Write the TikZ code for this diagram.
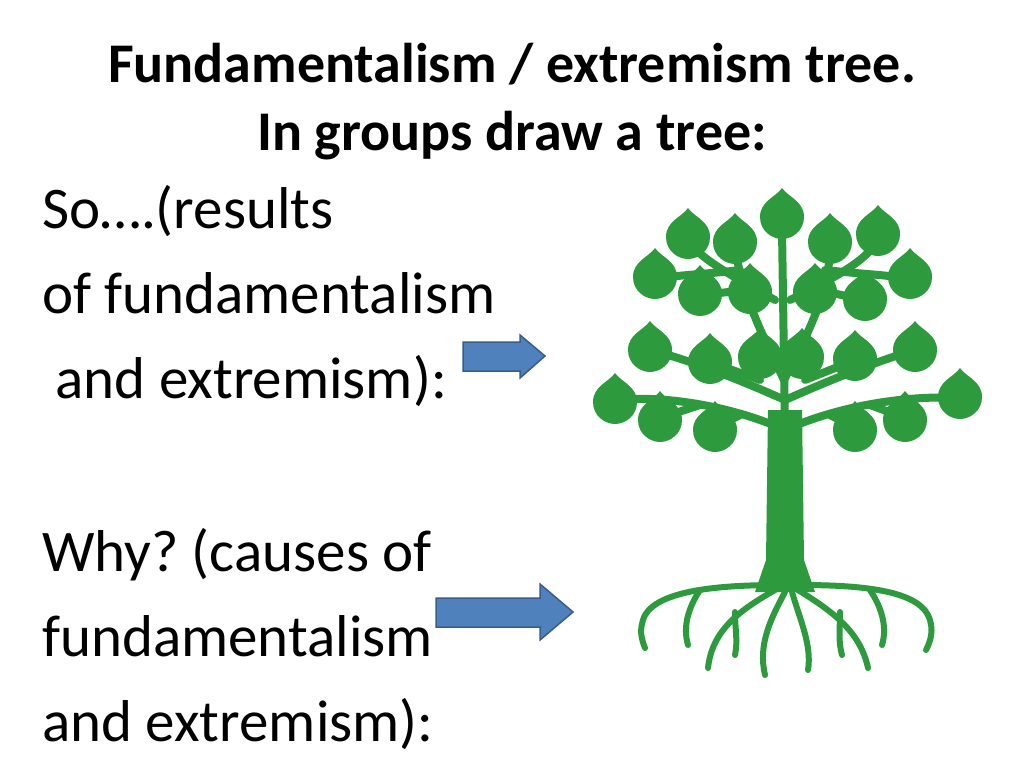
\documentclass[tikz,border=0pt]{standalone}
\usepackage{fontspec}
\setmainfont{Carlito}
\frenchspacing
\definecolor{treeg}{HTML}{2E9A3E}
\definecolor{arrf}{HTML}{4F81BD}
\definecolor{arrd}{HTML}{385D8A}
\tikzset{
 txt/.style={anchor=base west,inner sep=0pt,font=\fontsize{59}{59}\selectfont},
 ttl/.style={anchor=base,inner sep=0pt,font=\fontsize{56}{56}\selectfont\bfseries},
 arr/.style={fill=arrf,draw=arrd,line width=1.5pt},
 br/.style={draw=treeg,line width=8pt,line cap=round},
 rt/.style={draw=treeg,line width=6pt,line cap=round},
 leaf/.pic={\fill[treeg] (0,-27) .. controls (6,-18) and (22,-14) .. (22,2) .. controls (22,16) and (10,24) .. (0,24) .. controls (-10,24) and (-22,16) .. (-22,2) .. controls (-22,-14) and (-6,-18) .. (0,-27) -- cycle;}
}
\begin{document}
\begin{tikzpicture}[x=1pt,y=-1pt]
\useasboundingbox (0,0) rectangle (1024,768);
\fill[white] (0,0) rectangle (1024,768);
\node[ttl] (t1) at (512,82) {Fundamentalism / extremism tree.};
\node[ttl] (t2) at (512,150) {In groups draw a tree:};
\node[txt] (a1) at (42,228) {So….(results};
\node[txt] (a2) at (42,313) {of fundamentalism};
\node[txt] (a3) at (42,398) {\ and extremism):};
\node[txt] (b1) at (42,571) {Why? (causes of};
\node[txt] (b2) at (42,656) {fundamentalism};
\node[txt] (b3) at (42,741) {and extremism):};
% arrows
\draw[arr] (463,342) -- (520,342) -- (520,335) -- (545,356) -- (520,378) -- (520,371) -- (463,371) -- cycle;
\draw[arr] (436,598) -- (540,598) -- (540,584) -- (573,612) -- (540,640) -- (540,627) -- (436,627) -- cycle;
% trunk
\fill[treeg] (768,410) -- (802,410) -- (804,560) -- (815,592) -- (755,592) -- (766,560) -- cycle;
% branches
\draw[br] (785,430) -- (782,230);
\draw[br] (784,380) .. controls (760,330) and (740,290) .. (735,245);
\draw[br] (784,380) .. controls (810,330) and (830,290) .. (830,245);
\draw[br] (775,300) .. controls (740,280) and (700,260) .. (688,240);
\draw[br] (790,300) .. controls (830,280) and (870,260) .. (878,238);
\draw[br] (740,270) .. controls (700,275) and (670,275) .. (655,280);
\draw[br] (825,270) .. controls (870,275) and (895,275) .. (910,280);
\draw[br] (760,300) -- (750,295);
\draw[br] (748,290) -- (700,295);
\draw[br] (812,300) -- (815,295);
\draw[br] (818,290) -- (865,300);
\draw[br] (785,400) .. controls (740,380) and (690,360) .. (650,350);
\draw[br] (785,400) .. controls (830,380) and (880,360) .. (915,350);
\draw[br] (760,380) -- (710,362);
\draw[br] (765,370) -- (760,358);
\draw[br] (800,370) -- (800,358);
\draw[br] (805,380) -- (855,360);
\draw[br] (785,430) .. controls (730,405) and (660,395) .. (615,400);
\draw[br] (785,430) .. controls (840,405) and (910,395) .. (960,398);
\draw[br] (700,405) -- (660,418);
\draw[br] (740,415) -- (715,428);
\draw[br] (870,405) -- (905,418);
\draw[br] (830,415) -- (855,428);
% leaves
\foreach \p in {(782,215),(735,240),(830,240),(688,235),(878,232),(655,275),(910,275),(700,292),(750,290),(815,290),(865,297),(650,348),(915,348),(710,360),(760,355),(802,355),(855,357),(615,400),(960,395),(660,418),(905,418),(715,428),(855,428)}
  \pic at \p {leaf};
% roots
\draw[rt] (780,585) .. controls (720,585) and (660,590) .. (645,615) .. controls (638,630) and (642,640) .. (645,648);
\draw[rt] (700,590) .. controls (690,605) and (682,625) .. (688,645);
\draw[rt] (775,590) .. controls (740,610) and (712,630) .. (708,668);
\draw[rt] (785,592) .. controls (770,620) and (758,645) .. (765,675);
\draw[rt] (792,592) .. controls (800,620) and (812,645) .. (808,670);
\draw[rt] (798,590) .. controls (830,610) and (860,630) .. (868,668);
\draw[rt] (800,585) .. controls (860,585) and (915,590) .. (928,615) .. controls (935,630) and (930,642) .. (926,650);
\draw[rt] (870,590) .. controls (880,605) and (888,625) .. (882,645);
\draw[rt] (735,612) .. controls (735,630) and (738,640) .. (735,655);
\draw[rt] (840,612) .. controls (840,630) and (838,640) .. (842,655);
\end{tikzpicture}
\end{document}
